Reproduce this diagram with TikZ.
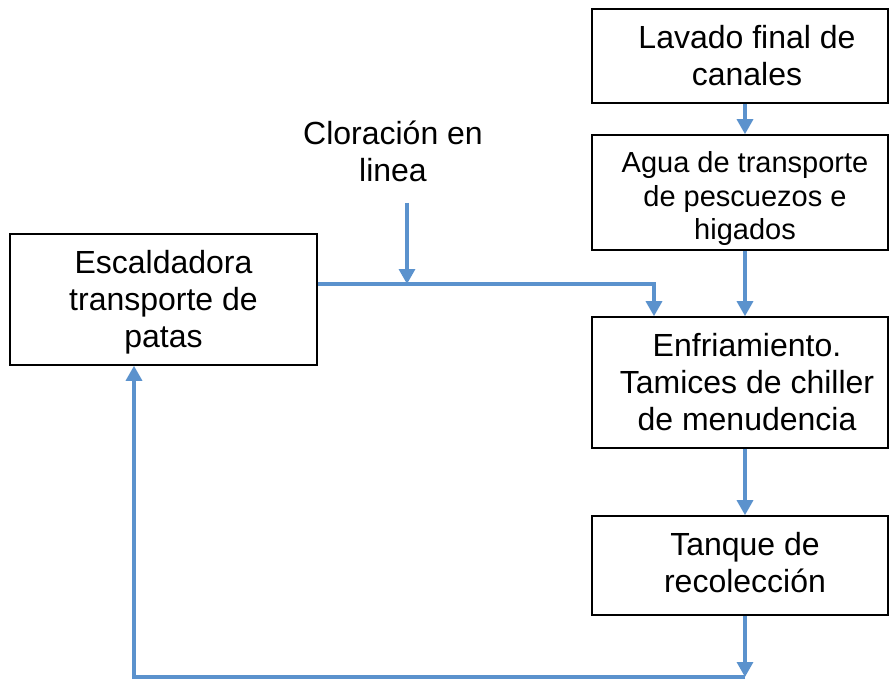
\documentclass[tikz,border=0pt]{standalone}
\usepackage{fontspec}
\setmainfont{Liberation Sans}
\usetikzlibrary{arrows.meta}
\definecolor{flowblue}{RGB}{91,146,205}
\begin{document}
\begin{tikzpicture}[x=1pt,y=-1pt,
  box/.style={draw=black,line width=1.6pt,rectangle,inner sep=0pt},
  txt/.style={align=center,inner sep=0pt,font=\fontsize{32}{37}\selectfont},
  flow/.style={draw=flowblue,line width=3.2pt,-{Triangle[width=16pt,length=15pt]}}]
\useasboundingbox (0,0) rectangle (889,679);
\node[box,minimum width=296pt,minimum height=94pt] (b1) at (740,56) {};
\node[box,minimum width=296pt,minimum height=115pt] (b2) at (740,192.5) {};
\node[box,minimum width=296pt,minimum height=131pt] (b3) at (740,382.5) {};
\node[box,minimum width=296pt,minimum height=99pt] (b4) at (740,565.5) {};
\node[box,minimum width=307pt,minimum height=131pt] (esc) at (163.5,299.5) {};
\node[txt] (b1t) at (747,56) {Lavado final de\\canales};
\node[txt,font=\fontsize{29}{33.5}\selectfont] (b2t) at (745,199) {Agua de transporte\\de pescuezos e\\higados};
\node[txt] (b3t) at (747,382.5) {Enfriamiento.\\Tamices de chiller\\de menudencia};
\node[txt] (b4t) at (745,562.5) {Tanque de\\recolección};
\node[txt] (esct) at (163.5,302.5) {Escaldadora\\transporte de\\patas};
\node[txt] (clor) at (393,151) {Cloración en\\linea};
\coordinate (col) at (745,0);
\coordinate (k) at (654,0);
\coordinate (lx) at (134,0);
\coordinate (c0) at (407,203);
\coordinate (c1) at (407,284);
\coordinate (bot) at (745,677);
\draw[flow] (b1.south -| col) -- (b2.north -| col);
\draw[flow] (b2.south -| col) -- (b3.north -| col);
\draw[flow] (b3.south -| col) -- (b4.north -| col);
\draw[flow] (b4.south -| col) -- (bot);
\draw[flow] (bot) -| (esc.south -| lx);
\draw[flow] (c0) -- (c1);
\draw[flow] (esc.east |- c1) -| (b3.north -| k);
\end{tikzpicture}
\end{document}
